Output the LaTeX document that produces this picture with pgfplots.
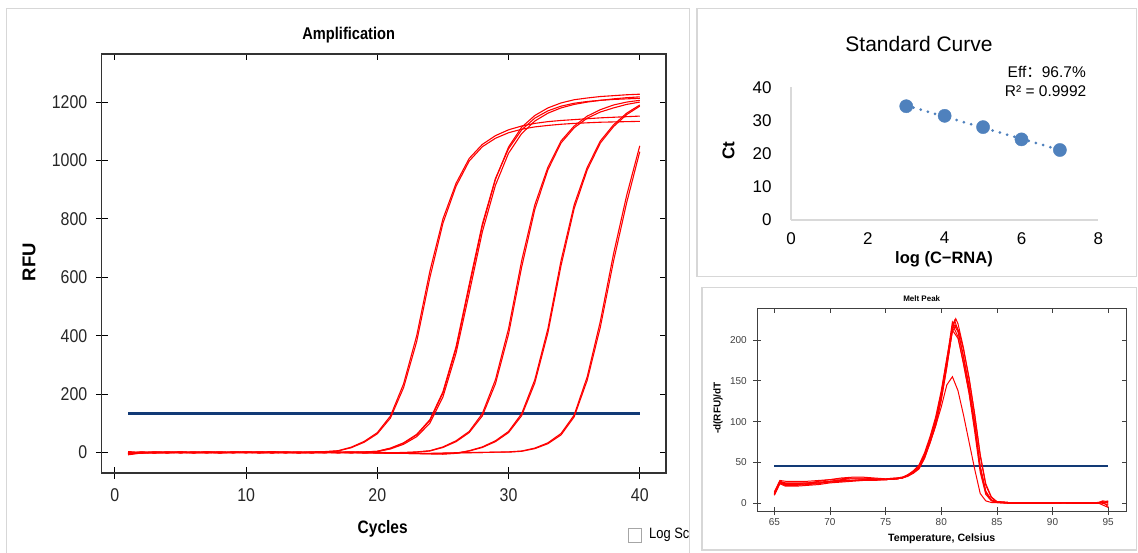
\documentclass[border=0pt]{standalone}
\usepackage{pgfplots}
\pgfplotsset{compat=1.18}
\usepackage{fontspec}
\setmainfont{Liberation Sans}
\newfontfamily\narrowfont[FakeStretch=0.86]{Liberation Sans}
\newfontfamily\cjkfont{Noto Sans CJK SC}
\definecolor{ampred}{RGB}{255,0,0}
\definecolor{thresh}{RGB}{18,58,118}
\definecolor{excelblue}{RGB}{79,129,189}
\definecolor{panelgray}{RGB}{215,215,215}
\definecolor{axisgray}{RGB}{217,217,217}
\newcommand\fs[1]{\fontsize{#1}{#1}\selectfont}

\begin{document}
\begin{tikzpicture}[x=1pt,y=1pt]
\useasboundingbox (0,0) rectangle (1138,552);
\fill[white] (0,0) rectangle (1138,552);
% panel frames
\draw[panelgray, line width=1.5pt] (6.5,-2) -- (6.5,543.5) -- (689.5,543.5) -- (689.5,-2);
\draw[panelgray, line width=1.5pt] (697,275.3) rectangle (1136.5,543.7);
\draw[panelgray, line width=1.5pt] (702,2) rectangle (1136.5,264.7);

%% ---------------- Amplification ----------------
\begin{axis}[
    at={(101.8pt,79.1pt)}, anchor=south west,
    scale only axis, width=564.2pt, height=419pt,
    xmin=-1, xmax=42, ymin=-70, ymax=1365,
    xtick={0,10,...,40}, ytick={0,200,...,1200},
    xtick pos=left, ytick pos=left,
    tick align=center, major tick length=12pt,
    tick style={black, line width=1pt},
    axis line style={black!80, line width=1.3pt},
    ticklabel style={font=\narrowfont\fs{18.5}, color=black!85},
    xticklabel style={yshift=-6pt},
    yticklabel style={xshift=-5pt},
    /pgf/number format/assume math mode=true,
    /pgf/number format/1000 sep={},
    scaled ticks=false,
]
\addplot[thresh, line width=3pt] coordinates {(1,133) (40,133)};
% group 1
\addplot[ampred, line width=1.1pt] coordinates {(1,-6)(2,0)(3,-2)(4,1)(5,-1)(6,0)(7,2)(8,1)(9,0)(10,1)(11,-1)(12,2)(13,0)(14,1)(15,2)(16,3)(17,6)(18,18)(19,38)(20,68)(21,125)(22,235)(23,400)(24,620)(25,800)(26,922)(27,1007)(28,1055)(29,1085)(30,1105)(31,1118)(32,1127)(33,1133)(34,1137)(35,1140)(36,1143)(37,1146)(38,1148)(39,1150)(40,1152)};
\addplot[ampred, line width=1.1pt] coordinates {(1,2)(2,-3)(3,1)(4,-1)(5,2)(6,-1)(7,0)(8,2)(9,-1)(10,0)(11,2)(12,0)(13,1)(14,-1)(15,1)(16,2)(17,5)(18,16)(19,35)(20,64)(21,118)(22,222)(23,380)(24,598)(25,785)(26,912)(27,998)(28,1047)(29,1076)(30,1095)(31,1107)(32,1115)(33,1120)(34,1124)(35,1127)(36,1129)(37,1131)(38,1132)(39,1133)(40,1134)};
% group 2
\addplot[ampred, line width=1.1pt] coordinates {(1,-3)(2,1)(3,-2)(4,0)(5,2)(6,-1)(7,1)(8,-1)(9,1)(10,0)(11,-2)(12,1)(13,-1)(14,0)(15,1)(16,-1)(17,0)(18,1)(19,2)(20,4)(21,14)(22,32)(23,60)(24,109)(25,203)(26,356)(27,567)(28,775)(29,935)(30,1046)(31,1114)(32,1154)(33,1180)(34,1197)(35,1208)(36,1214)(37,1219)(38,1222)(39,1225)(40,1227)};
\addplot[ampred, line width=1.1pt] coordinates {(1,-8)(2,-2)(3,0)(4,-1)(5,1)(6,0)(7,-2)(8,1)(9,0)(10,-1)(11,1)(12,3)(13,0)(14,-2)(15,0)(16,1)(17,-1)(18,0)(19,1)(20,3)(21,12)(22,28)(23,54)(24,100)(25,190)(26,340)(27,545)(28,755)(29,915)(30,1025)(31,1092)(32,1135)(33,1162)(34,1180)(35,1192)(36,1200)(37,1206)(38,1211)(39,1215)(40,1218)};
\addplot[ampred, line width=1.1pt] coordinates {(1,0)(2,-1)(3,2)(4,1)(5,-1)(6,1)(7,0)(8,-1)(9,2)(10,1)(11,0)(12,-1)(13,1)(14,1)(15,-1)(16,0)(17,1)(18,2)(19,1)(20,4)(21,15)(22,33)(23,62)(24,112)(25,208)(26,362)(27,575)(28,782)(29,938)(30,1040)(31,1105)(32,1145)(33,1170)(34,1186)(35,1196)(36,1202)(37,1206)(38,1209)(39,1211)(40,1213)};
% group 3
\addplot[ampred, line width=1.1pt] coordinates {(1,-2)(2,2)(3,0)(4,-1)(5,1)(6,0)(7,1)(8,-2)(9,0)(10,1)(11,0)(12,-1)(13,1)(14,0)(15,-1)(16,0)(17,1)(18,-1)(19,0)(20,1)(21,-1)(22,0)(23,2)(24,6)(25,19)(26,40)(27,72)(28,133)(29,249)(30,424)(31,657)(32,848)(33,977)(34,1067)(35,1118)(36,1152)(37,1174)(38,1190)(39,1200)(40,1206)};
\addplot[ampred, line width=1.1pt] coordinates {(1,-5)(2,0)(3,1)(4,-2)(5,0)(6,2)(7,-1)(8,0)(9,1)(10,-1)(11,1)(12,0)(13,-2)(14,1)(15,0)(16,-1)(17,0)(18,1)(19,-1)(20,0)(21,-2)(22,-1)(23,1)(24,5)(25,17)(26,37)(27,68)(28,125)(29,235)(30,405)(31,635)(32,832)(33,968)(34,1060)(35,1112)(36,1145)(37,1166)(38,1180)(39,1192)(40,1200)};
% group 4
\addplot[ampred, line width=1.1pt] coordinates {(1,-4)(2,1)(3,-1)(4,0)(5,1)(6,-1)(7,0)(8,1)(9,-1)(10,0)(11,1)(12,-1)(13,0)(14,1)(15,-1)(16,0)(17,-1)(18,0)(19,-2)(20,-1)(21,-2)(22,-3)(23,-4)(24,-5)(25,-6)(26,-3)(27,6)(28,19)(29,40)(30,72)(31,133)(32,249)(33,424)(34,657)(35,848)(36,977)(37,1067)(38,1122)(39,1162)(40,1190)};
\addplot[ampred, line width=1.1pt] coordinates {(1,1)(2,-2)(3,0)(4,2)(5,-1)(6,0)(7,1)(8,-1)(9,0)(10,2)(11,0)(12,-1)(13,1)(14,-1)(15,0)(16,1)(17,0)(18,-1)(19,0)(20,-1)(21,-2)(22,-2)(23,-3)(24,-4)(25,-4)(26,-2)(27,5)(28,17)(29,37)(30,68)(31,126)(32,238)(33,410)(34,640)(35,835)(36,968)(37,1060)(38,1116)(39,1157)(40,1186)};
% group 5
\addplot[ampred, line width=1.1pt] coordinates {(1,-6)(2,-1)(3,1)(4,0)(5,-1)(6,1)(7,0)(8,-1)(9,1)(10,0)(11,-1)(12,1)(13,0)(14,-1)(15,0)(16,1)(17,-1)(18,0)(19,-1)(20,-2)(21,-3)(22,-3)(23,-4)(24,-4)(25,-3)(26,-2)(27,-1)(28,0)(29,1)(30,2)(31,5)(32,15)(33,33)(34,65)(35,128)(36,260)(37,450)(38,680)(39,880)(40,1050)};
\addplot[ampred, line width=1.1pt] coordinates {(1,3)(2,0)(3,-1)(4,1)(5,0)(6,-2)(7,1)(8,0)(9,-1)(10,1)(11,0)(12,-1)(13,1)(14,0)(15,-1)(16,0)(17,1)(18,-1)(19,0)(20,-1)(21,-2)(22,-2)(23,-3)(24,-3)(25,-2)(26,-1)(27,0)(28,0)(29,1)(30,1)(31,4)(32,13)(33,30)(34,60)(35,122)(36,248)(37,430)(38,655)(39,855)(40,1030)};
\end{axis}
% inside ticks on top and right
\begin{axis}[
    at={(101.8pt,79.1pt)}, anchor=south west,
    scale only axis, width=564.2pt, height=419pt,
    xmin=-1, xmax=42, ymin=-70, ymax=1365,
    xtick={0,10,...,40}, ytick={0,200,...,1200},
    xtick pos=right, ytick pos=right,
    tick align=inside, major tick length=6pt,
    tick style={black, line width=1pt},
    axis line style={black!80, line width=1.3pt},
    xticklabels={}, yticklabels={},
]
\end{axis}
\node[font=\narrowfont\bfseries\fs{17}, anchor=base] at (348.7,512.2) {Amplification};
\node[font=\bfseries\fs{18.5}, rotate=90] at (29,290) {RFU};
\node[font=\narrowfont\bfseries\fs{18}, anchor=base] at (382.7,18.5) {Cycles};
\draw[gray!70, line width=0.8pt, fill=white] (628.5,10) rectangle (641.5,24);
\node[anchor=west, font=\narrowfont\fs{15}, inner sep=0pt] at (649,17) {Log Sc};

%% ---------------- Standard Curve ----------------
\begin{axis}[
    at={(791pt,332pt)}, anchor=south west,
    scale only axis, width=307.3pt, height=132.7pt,
    xmin=0, xmax=8, ymin=0, ymax=40,
    axis lines=left,
    axis line style={axisgray, line width=1.5pt, -},
    xtick={0,2,...,8}, ytick={0,10,...,40},
    major tick length=0pt,
    ticklabel style={font=\fs{17}, color=black},
    xticklabel style={yshift=-11pt, inner sep=1pt},
    yticklabel style={xshift=-16pt},
    /pgf/number format/assume math mode=true,
    clip=false,
]
\addplot[excelblue, line width=3pt, line cap=round, dash pattern=on 0pt off 7.5pt] coordinates {(3,34.52) (7,21.12)};
\addplot[only marks, mark=*, mark size=6.6pt, mark options={draw=excelblue, fill=excelblue}] coordinates {(3,34.3) (4,31.4) (5,28.0) (6,24.3) (7,21.1)};
\end{axis}
\node[font=\fs{21}, anchor=base] at (919,500.3) {Standard Curve};
\node[font=\bfseries\fs{16.5}, anchor=base, inner sep=1pt] at (944,288.8) {log (C−RNA)};
\node[font=\bfseries\fs{17}, rotate=90] at (728.5,401.5) {Ct};
\node[font=\fs{15.5}, anchor=base east, inner sep=0pt] at (1086,474.3) {Eff{\cjkfont ：}96.7\%};
\node[font=\fs{15.5}, anchor=base east, inner sep=0pt] at (1086.5,455.3) {R² = 0.9992};

%% ---------------- Melt Peak ----------------
\begin{axis}[
    at={(757.3pt,41pt)}, anchor=south west,
    scale only axis, width=368.7pt, height=202pt,
    xmin=63.47, xmax=96.6, ymin=-9.4, ymax=237.9,
    xtick={65,70,...,95}, ytick={0,50,...,200},
    xtick pos=left, ytick pos=left,
    tick align=center, major tick length=8pt,
    tick style={black!75, line width=0.8pt},
    axis line style={black!75, line width=1pt},
    ticklabel style={font=\fs{10}, color=black!75},
    yticklabel style={xshift=-3pt},
    /pgf/number format/assume math mode=true,
]
\addplot[thresh, line width=1.4pt] coordinates {(65,45.7) (95,45.7)};
\addplot[ampred, line width=1pt] coordinates {(65,12)(65.5,27)(66,25)(67,25)(68,25)(69,26)(70,27)(71,28)(72,28)(73,29)(74,29)(75,29)(76,30)(76.5,31)(77,34)(77.5,38)(78,44)(78.5,58)(79,78)(79.5,100)(80,132)(80.5,172)(81,218)(81.2,224)(81.5,212)(82,180)(82.5,144)(83,100)(83.5,46)(84,15)(84.5,4)(85,2)(86,1)(88,1)(90,0)(92,1)(94,0)(94.5,1)(95,1)};
\addplot[ampred, line width=1pt] coordinates {(65,14)(65.5,28)(66,27)(67,27)(68,27)(69,28)(70,29)(71,30)(72,31)(73,31)(74,30)(75,30)(76,31)(76.5,32)(77,34)(77.5,37)(78,42)(78.5,55)(79,74)(79.5,95)(80,126)(80.5,166)(81,214)(81.3,226)(81.5,220)(82,190)(82.5,152)(83,108)(83.5,58)(84,22)(84.5,7)(85,2)(86,1)(88,0)(90,1)(92,0)(94,1)(94.5,2)(95,-4)};
\addplot[ampred, line width=1pt] coordinates {(65,10)(65.5,24)(66,21)(67,21)(68,22)(69,23)(70,25)(71,26)(72,27)(73,28)(74,28)(75,29)(76,30)(76.5,31)(77,35)(77.5,40)(78,47)(78.5,62)(79,82)(79.5,106)(80,138)(80.5,178)(81,214)(81.1,216)(81.5,204)(82,170)(82.5,134)(83,88)(83.5,38)(84,11)(84.5,3)(85,1)(86,0)(88,1)(90,0)(92,1)(94,0)(94.5,3)(95,2)};
\addplot[ampred, line width=1pt] coordinates {(65,12)(65.5,26)(66,24)(67,24)(68,25)(69,27)(70,29)(71,31)(72,32)(73,32)(74,31)(75,30)(76,31)(76.5,32)(77,35)(77.5,39)(78,45)(78.5,60)(79,80)(79.5,103)(80,135)(80.5,176)(81,222)(81.5,210)(82,178)(82.5,140)(83,96)(83.5,44)(84,14)(84.5,4)(85,2)(86,1)(88,1)(90,1)(92,0)(94,1)(94.5,-2)(95,-5)};
\addplot[ampred, line width=1pt] coordinates {(65,13)(65.5,27)(66,23)(67,23)(68,24)(69,25)(70,26)(71,27)(72,28)(73,29)(74,29)(75,29)(76,30)(76.5,31)(77,33)(77.5,37)(78,43)(78.5,56)(79,75)(79.5,97)(80,128)(80.5,168)(81,210)(81.3,218)(81.6,210)(82,188)(82.5,154)(83,110)(83.5,60)(84,24)(84.5,8)(85,2)(86,1)(88,0)(90,0)(92,1)(94,0)(94.5,1)(95,3)};
\addplot[ampred, line width=1pt] coordinates {(65,11)(65.5,25)(66,22)(67,22)(68,23)(69,24)(70,27)(71,29)(72,30)(73,30)(74,30)(75,29)(76,30)(76.5,31)(77,34)(77.5,38)(78,45)(78.5,59)(79,79)(79.5,101)(80,133)(80.5,170)(81,212)(81.5,202)(82,172)(82.5,136)(83,94)(83.5,42)(84,13)(84.5,4)(85,1)(86,1)(88,0)(90,1)(92,0)(94,0)(94.5,2)(95,0)};
\addplot[ampred, line width=1pt] coordinates {(65,10)(65.5,25)(66,23)(67,23)(68,24)(69,25)(70,26)(71,27)(72,28)(73,28)(74,29)(75,29)(76,30)(76.5,31)(77,34)(77.5,38)(78,44)(78.5,57)(79,75)(79.5,95)(80,118)(80.5,145)(81,155)(81.5,138)(82,108)(82.5,75)(83,42)(83.5,12)(84,3)(84.5,1)(85,1)(86,0)(88,0)(90,1)(92,0)(94,1)(94.5,0)(95,-2)};
\end{axis}
\begin{axis}[
    at={(757.3pt,41pt)}, anchor=south west,
    scale only axis, width=368.7pt, height=202pt,
    xmin=63.47, xmax=96.6, ymin=-9.4, ymax=237.9,
    xtick={65,70,...,95}, ytick={0,50,...,200},
    xtick pos=right, ytick pos=right,
    tick align=inside, major tick length=4pt,
    tick style={black!75, line width=0.8pt},
    axis line style={black!75, line width=1pt},
    xticklabels={}, yticklabels={},
]
\end{axis}
\node[font=\bfseries\fs{8}, anchor=base] at (921.7,250) {Melt Peak};
\node[font=\bfseries\fs{10.6}, anchor=base] at (941.7,10.5) {Temperature, Celsius};
\node[font=\bfseries\fs{10}, rotate=90] at (718,144) {-d(RFU)/dT};
\end{tikzpicture}
\end{document}
